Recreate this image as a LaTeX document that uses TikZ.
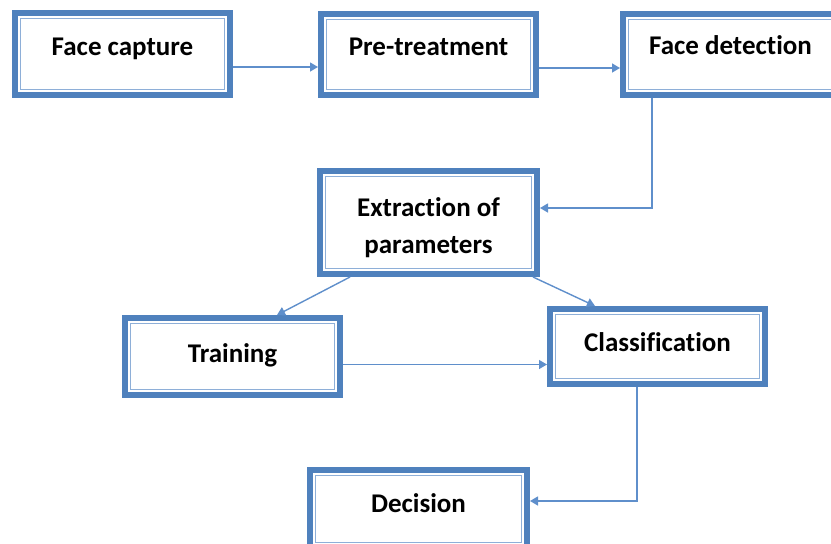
\documentclass[tikz,border=0pt]{standalone}
\usepackage{fontspec}
\setmainfont{Carlito}[Ligatures=NoCommon]
\usetikzlibrary{arrows.meta}
\definecolor{bandblue}{HTML}{4F81BD}
\definecolor{innerblue}{HTML}{8EAFD8}
\definecolor{lineblue}{HTML}{5F8FCB}
\tikzset{
  box/.style={draw=bandblue, line width=6pt, fill=white, rectangle,
    font=\fontsize{27}{37}\selectfont\bfseries, inner sep=0pt,
    text height=0pt, text depth=0pt},
  innerframe/.style={draw=innerblue, line width=1.3pt},
  conn/.style={draw=lineblue, line width=1.4pt,
    -{Triangle[length=8pt,width=9pt]}}
}
\begin{document}
\begin{tikzpicture}[x=1pt,y=-1pt]
\useasboundingbox (0,0) rectangle (831,544);
\node[box,minimum width=215pt,minimum height=82pt] (A) at (122.5,54) {\raisebox{-1pt}{Face capture}};
\node[box,minimum width=215pt,minimum height=81pt] (B) at (428.5,54.5) {\raisebox{-0.5pt}{Pre-treatment}};
\node[box,minimum width=215pt,minimum height=81pt] (C) at (730.5,54.5) {\raisebox{0pt}{Face detection}};
\node[box,minimum width=217pt,minimum height=103pt] (D) at (428.5,222.5) {\raisebox{-30.5pt}{\begin{tabular}[b]{@{}c@{}}Extraction of\\parameters\end{tabular}}};
\node[box,minimum width=215pt,minimum height=77pt] (E) at (232.5,356.5) {\raisebox{-5.5pt}{Training}};
\node[box,minimum width=215pt,minimum height=75pt] (F) at (657.5,346.5) {\raisebox{-4.5pt}{Classification}};
\node[box,minimum width=217pt,minimum height=78pt] (G) at (418.5,509) {\raisebox{-3pt}{Decision}};
\foreach \n in {A,B,C,D,E,F,G}
  \draw[innerframe] ([shift={(8.5pt,-8.5pt)}]\n.north west) rectangle ([shift={(-8.5pt,8.5pt)}]\n.south east);
\draw[conn] ([yshift=-13pt]A.east) -- ([yshift=-13pt]A.east -| B.west);
\draw[conn] ([yshift=-13.5pt]B.east) -- ([yshift=-13.5pt]B.east -| C.west);
\draw[conn] ([xshift=-78.5pt]C.south) |- ([yshift=14.5pt]D.east);
\draw[conn] ([xshift=-78.5pt]D.south) -- ([xshift=44.5pt]E.north);
\draw[conn] ([xshift=104.5pt]D.south) -- ([xshift=-62.5pt]F.north);
\draw[conn] ([yshift=-8pt]E.east) -- ([yshift=-8pt]E.east -| F.west);
\draw[conn] ([xshift=-20.5pt]F.south) |- ([yshift=8pt]G.east);
\end{tikzpicture}
\end{document}
